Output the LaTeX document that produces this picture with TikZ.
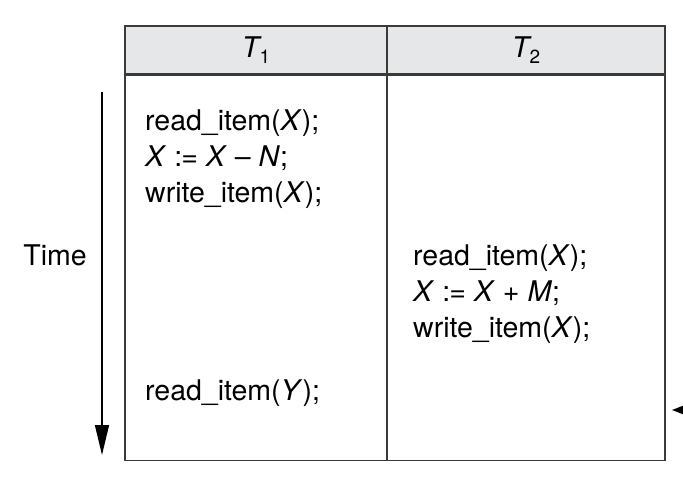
\documentclass[tikz,border=0pt]{standalone}
\usepackage{fontspec}
\setmainfont{TeX Gyre Heros}
\usepackage{tikz}
\usetikzlibrary{arrows.meta,positioning}
\definecolor{headgray}{HTML}{E6E7E8}
\definecolor{rulegray}{HTML}{3A3A3A}
\newcommand{\tsub}[2]{\textit{#1}\kern-2pt\raisebox{-6pt}{\fontsize{19}{19}\selectfont #2}}
\tikzset{
    %Define standard arrow tip
    >={Triangle[length=30pt,width=14pt]},
    %Define style for cells
    headcell/.style={
           rectangle,
           draw=rulegray, line width=1.3pt,
           fill=headgray,
           inner sep=0pt,
           minimum height=48pt,
           font=\fontsize{28.5}{36}\selectfont,
           text centered},
    bodycell/.style={
           rectangle,
           draw=rulegray, line width=1.3pt,
           inner sep=0pt,
           minimum height=385pt},
    % Define style for statements
    stmt/.style={
           anchor=base west,
           inner sep=0pt,
           font=\fontsize{28.5}{36}\selectfont},
    % Define arrow style
    pil/.style={
           ->,
           line width=1.4pt,
           draw=black}
}
\begin{document}
\begin{tikzpicture}[x=1pt,y=-1pt]
\useasboundingbox (0,0) rectangle (683,482);

 %cells
\node[headcell, minimum width=262pt](h1) at (256,50){\tsub{T}{1}};
\node[headcell, minimum width=278pt](h2) at (526,50){\tsub{T}{2}};
\node[bodycell, minimum width=262pt, below=0pt of h1](b1){};
\node[bodycell, minimum width=278pt, below=0pt of h2](b2){};

 %statements of T1
\node[stmt](r1) at (145,130){read\_item(\textit{X});};
\node[stmt, below=0pt of r1.base west, anchor=base west, yshift=-36pt](s1){\textit{X} :\kern-1pt= \textit{X} – \textit{N};};
\node[stmt, below=0pt of s1.base west, anchor=base west, yshift=-36pt](w1){write\_item(\textit{X});};
\node[stmt](y1) at (145,400){read\_item(\textit{Y});};

 %statements of T2
\node[stmt](r2) at (413,265){read\_item(\textit{X});};
\node[stmt, below=0pt of r2.base west, anchor=base west, yshift=-36pt](s2){\textit{X} :\kern-1pt= \textit{X} + \textit{M};};
\node[stmt, below=0pt of s2.base west, anchor=base west, yshift=-36pt](w2){write\_item(\textit{X});};

 %time axis
\node[stmt, anchor=base](time) at (55,265){Time};
\coordinate (t0) at (102,92);
\coordinate (t1) at (102,455);
\coordinate (m0) at (720,410);
\coordinate (m1) at (672,410);
\draw[pil] (t0) -- (t1);
\draw[pil, >={Triangle[length=12pt,width=9pt]}] (m0) -- (m1);
\end{tikzpicture}
\end{document}
